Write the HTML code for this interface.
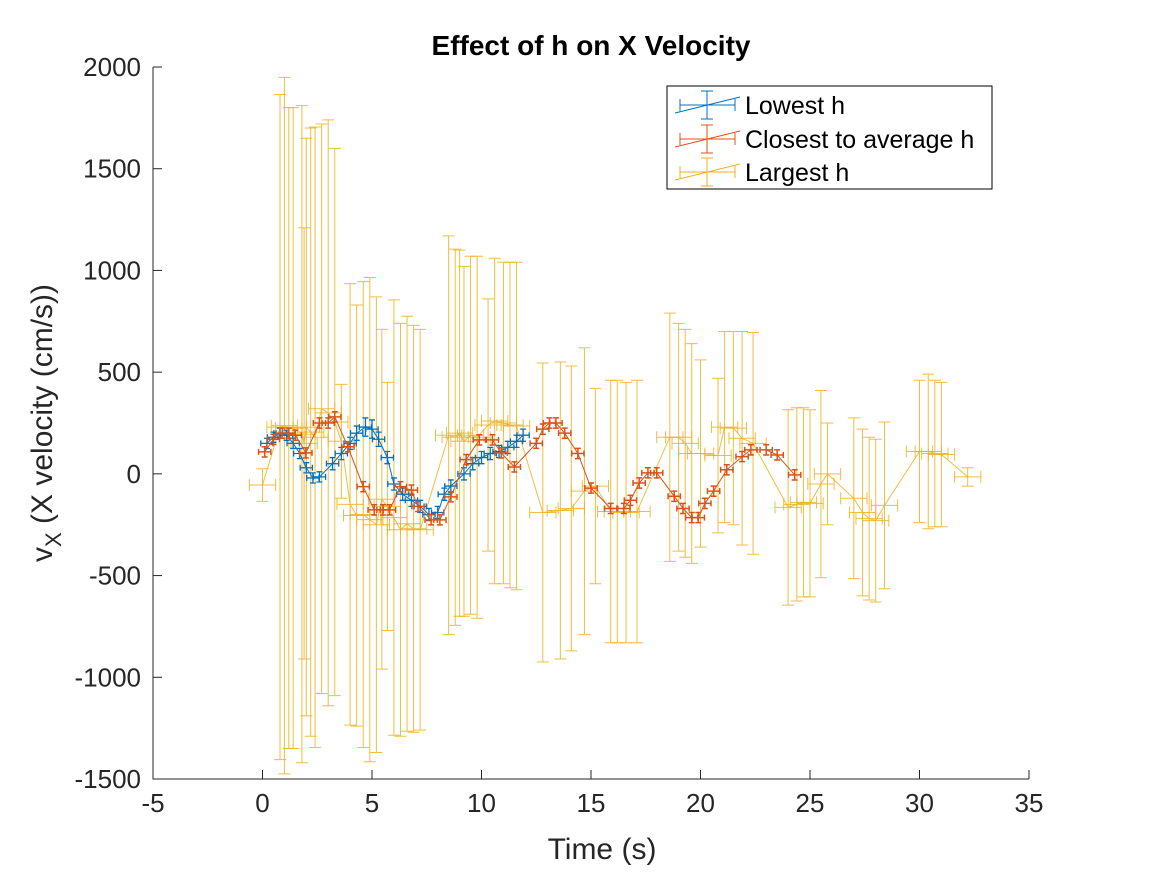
<!DOCTYPE html>
<html><head><meta charset="utf-8"><style>
body{margin:0;background:#fff;}
svg{font-family:"Liberation Sans",Arial,sans-serif;}
</style></head><body>
<svg id="chart" width="1167" height="875" xmlns="http://www.w3.org/2000/svg">
<rect width="1167" height="875" fill="#fff"/>
<text x="591" y="55" font-size="28" font-weight="bold" text-anchor="middle">Effect of h on X Velocity</text>
<g id="plot"></g>
<g id="axes"></g>
<text x="602" y="859" font-size="30" text-anchor="middle" fill="#262626">Time (s)</text>
<text transform="translate(52,423) rotate(-90)" font-size="30" text-anchor="middle" fill="#262626">v<tspan font-size="22" dy="9">X</tspan><tspan dy="-9"> (X velocity (cm/s))</tspan></text>
<g>
<rect x="667" y="86" width="325" height="103" fill="#fff" stroke="#000" stroke-width="1"/>
<g id="legicons"></g>
<text x="745" y="114" font-size="25">Lowest h</text>
<text x="745" y="148" font-size="25">Closest to average h</text>
<text x="745" y="181" font-size="25">Largest h</text>
</g>
</svg>
<script>
const xTicks=[-5,0,5,10,15,20,25,30,35];
const yTicks=[-1500,-1000,-500,0,500,1000,1500,2000];
// Lowest h
const blueT=[0.2,0.5,0.8,1.1,1.4,1.7,2.0,2.3,2.6,3.2,3.6,4.0,4.3,4.7,5.0,5.3,5.7,6.0,6.4,6.8,7.2,7.6,8.0,8.3,8.6,9.2,9.6,10.0,10.4,10.8,11.2,11.6,11.9];
const blueV=[150,180,200,190,150,100,30,-20,-15,50,100,150,200,230,220,170,80,-50,-100,-130,-160,-200,-190,-100,-60,0,50,80,100,110,130,160,190];
const blueE=[25,25,25,25,25,25,25,25,25,30,30,30,35,45,45,35,30,30,30,30,30,30,30,30,30,30,30,30,30,30,30,30,30];
// Closest to average h
const orangeT=[0.1,0.5,0.9,1.2,1.5,1.98,2.6,3.0,3.3,3.9,4.6,5.1,5.5,5.8,6.3,6.8,7.1,7.7,8.1,8.6,9.3,9.9,10.5,10.9,11.5,12.5,12.8,13.1,13.4,13.8,14.4,15.0,15.9,16.5,16.8,17.2,17.6,18.0,18.8,19.2,19.6,19.9,20.2,20.6,21.2,21.9,22.3,23.0,23.5,24.3];
const orangeV=[108,170,200,200,190,103,250,250,280,133,-63,-177,-177,-177,-63,-80,-160,-226,-226,-113,70,167,167,103,34,150,220,250,250,200,100,-70,-170,-170,-130,-45,5,5,-110,-170,-215,-215,-145,-85,20,85,118,118,93,-5];
const orangeE=[25,25,25,25,25,25,25,25,25,25,25,25,25,25,25,25,25,25,25,25,25,25,25,25,25,25,25,25,25,25,25,25,25,25,25,25,25,25,25,25,25,25,25,25,25,25,25,25,25,25];
// Largest h
const yellowT=[0.0,0.8,1.0,1.2,1.4,1.8,1.9,2.0,2.2,2.4,2.7,3.0,3.3,3.6,4.0,4.3,4.6,4.9,5.2,5.45,5.7,6.0,6.3,6.6,6.9,7.2,8.5,8.8,9.0,9.2,9.5,9.8,10.3,10.6,11.0,11.3,11.6,12.8,13.6,14.1,14.7,15.2,15.9,16.2,16.6,17.1,18.6,19.0,19.3,19.6,20.0,20.8,21.1,21.5,21.9,22.4,24.0,24.4,24.7,25.0,25.5,25.8,27.0,27.4,27.7,28.0,28.4,30.0,30.4,30.7,31.0,32.2];
const yellowV=[-55,230,237,225,225,195,150,230,205,180,320,300,255,160,-150,-205,-200,-225,-250,-125,-160,-215,-275,-245,-270,-275,190,180,200,160,190,180,240,260,250,240,235,-190,-180,-170,-85,-60,-185,-185,-190,-185,180,180,150,100,100,90,230,225,175,150,-165,-150,-140,-145,-50,0,-120,-190,-220,-230,-155,110,110,100,95,-15];
const yellowE=[80,1635,1712,1575,1575,1615,1060,1420,1495,1525,1400,1440,1345,280,1085,1035,1145,1190,1120,835,610,1070,1015,1020,1000,985,980,925,900,860,880,890,620,800,790,800,805,735,730,700,705,480,645,645,640,645,610,560,560,540,460,380,470,475,525,545,480,475,465,460,460,250,395,410,400,400,410,350,380,360,355,45];
const xErrSmall=0.28, xErrLarge=0.6;

const L=153,R=1029,T=67,B=779;
function sx(t){return L+(t-(-5))/(35-(-5))*(R-L);}
function sy(v){return B-(v-(-1500))/(2000-(-1500))*(B-T);}
const NS='http://www.w3.org/2000/svg';
function mk(tag,attrs,parent){const e=document.createElementNS(NS,tag);for(const k in attrs)e.setAttribute(k,attrs[k]);parent.appendChild(e);return e;}
const plot=document.getElementById('plot'), axes=document.getElementById('axes');

function series(ts,vs,es,xe,color,name,op,c,w){
  const g=mk('g',{},plot);
  
  
  let d='';
  ts.forEach((t,i)=>{d+=(i?'L':'M')+sx(t).toFixed(1)+' '+sy(vs[i]).toFixed(1);});
  const ln=mk('path',{d:d,fill:'none',stroke:color,'stroke-width':1,opacity:op},g);
  
  
  ts.forEach((t,i)=>{
    const x=sx(t),y=sy(vs[i]),y1=sy(vs[i]+es[i]),y2=sy(vs[i]-es[i]),x1=sx(t-xe),x2=sx(t+xe);
    const p='M'+x+' '+y1+'V'+y2+'M'+(x-c)+' '+y1+'H'+(x+c)+'M'+(x-c)+' '+y2+'H'+(x+c)+
      'M'+x1+' '+y+'H'+x2+'M'+x1+' '+(y-c)+'V'+(y+c)+'M'+x2+' '+(y-c)+'V'+(y+c);
    const eb=mk('path',{d:p,fill:'none',stroke:color,'stroke-width':w,opacity:op},g);
    
    
  });
}
series(yellowT,yellowV,yellowE,xErrLarge,'#EDB120','largest-h-series',0.85,6,1);
series(blueT,blueV,blueE,xErrSmall,'#0072BD','lowest-h-series',1,3,1.3);
series(orangeT,orangeV,orangeE,xErrSmall,'#D95319','average-h-series',1,3,1.5);

// axes
mk('path',{d:'M'+L+' '+T+'V'+B+'H'+R,fill:'none',stroke:'#262626','stroke-width':1},axes);
xTicks.forEach(t=>{
  const x=sx(t);
  const tk=mk('line',{x1:x,x2:x,y1:B,y2:B-9,stroke:'#262626'},axes);
  
  
  const tx=mk('text',{x:x,y:B+33,'font-size':26,'text-anchor':'middle',fill:'#262626'},axes);
  
  
  tx.textContent=t;
});
yTicks.forEach(v=>{
  const y=sy(v);
  const tk=mk('line',{x1:L,x2:L+9,y1:y,y2:y,stroke:'#262626'},axes);
  
  
  const tx=mk('text',{x:L-12,y:y+9,'font-size':26,'text-anchor':'end',fill:'#262626'},axes);
  
  
  tx.textContent=v;
});
// legend icons
const li=document.getElementById('legicons');
[['#0072BD',105],['#D95319',139],['#EDB120',172]].forEach(([c,y])=>{
  const p='M675 '+(y+8)+'Q707 '+y+' 740 '+(y-8)+'M707 '+(y-14)+'V'+(y+14)+'M701 '+(y-14)+'H713M701 '+(y+14)+'H713M680 '+y+'H735M680 '+(y-6)+'V'+(y+6)+'M735 '+(y-6)+'V'+(y+6);
  const e=mk('path',{d:p,fill:'none',stroke:c,'stroke-width':1},li);
  
  
});
</script>
</body></html>
